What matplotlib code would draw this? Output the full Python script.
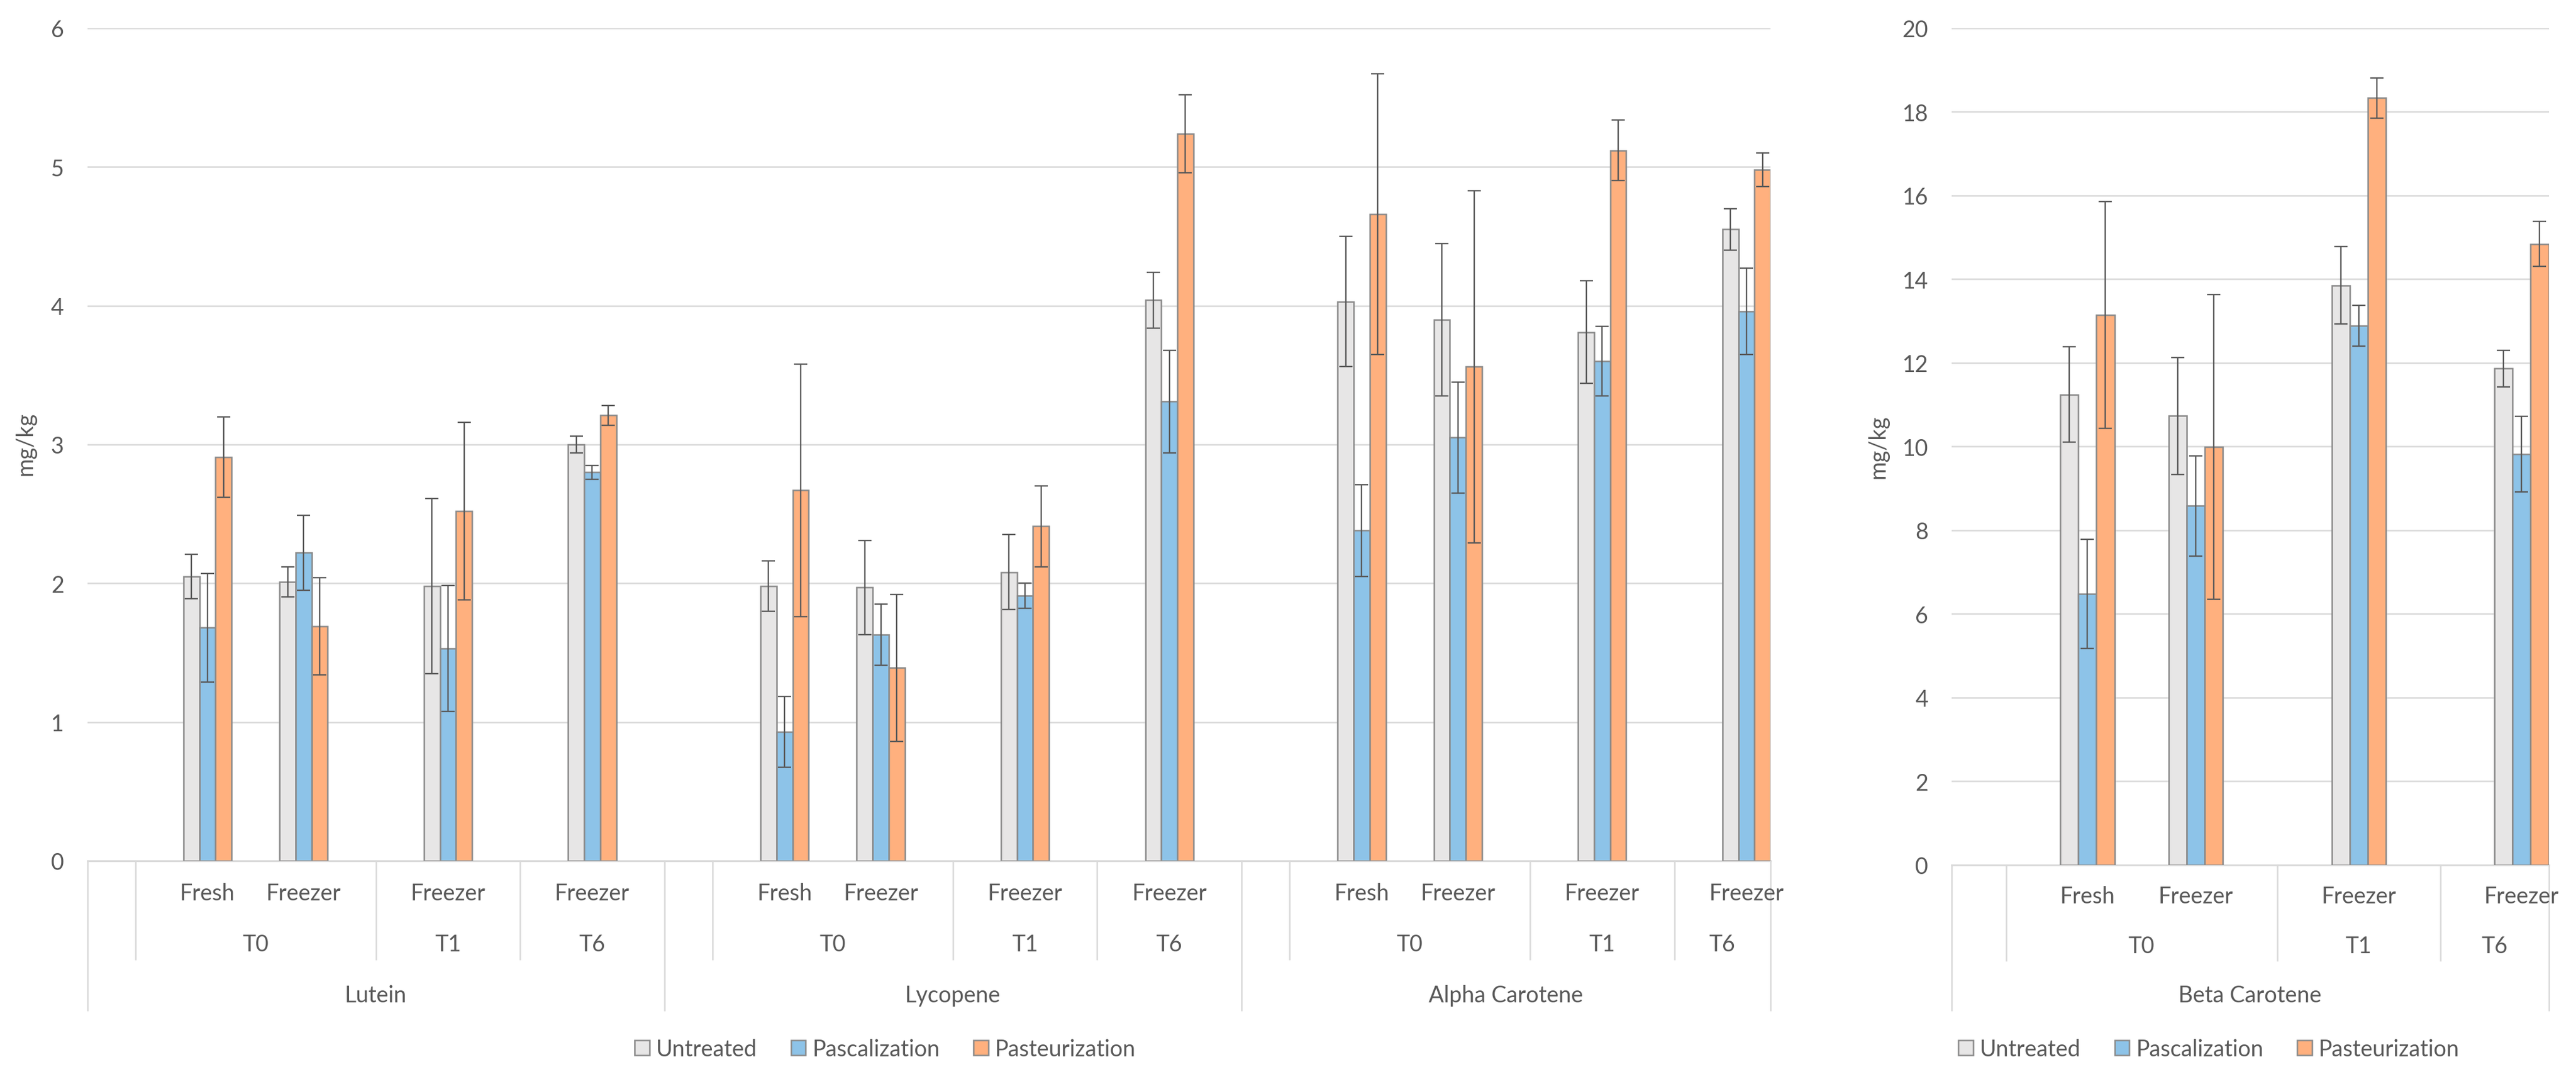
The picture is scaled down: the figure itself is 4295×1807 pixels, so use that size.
import matplotlib
matplotlib.use("Agg")
import matplotlib.pyplot as plt
import matplotlib.transforms as mtransforms
from matplotlib.patches import Patch
from matplotlib.lines import Line2D
import numpy as np

plt.rcParams['font.family'] = ['Lato', 'DejaVu Sans']

# ---------------- data ----------------
series_names = ["Untreated", "Pascalization", "Pasteurization"]

left_groups = ["Lutein", "Lycopene", "Alpha Carotene"]
right_groups = ["Beta Carotene"]

# Excel-style category rows per compound: (time level, storage labels incl. blank rows)
layout_full = [("", [""]),
               ("T0", ["", "Fresh", "", "Freezer", ""]),
               ("T1", ["", "Freezer", ""]),
               ("T6", ["", "Freezer", ""])]
layout_last = [("", [""]),
               ("T0", ["", "Fresh", "", "Freezer", ""]),
               ("T1", ["", "Freezer", ""]),
               ("T6", ["", "Freezer"])]

# values for the non-blank rows, in order: T0 Fresh, T0 Freezer, T1 Freezer, T6 Freezer
untreated_left = [2.05, 2.01, 1.98, 3.00,   1.98, 1.97, 2.08, 4.04,   4.03, 3.90, 3.81, 4.55]
untreated_left_err = [0.16, 0.11, 0.63, 0.06, 0.18, 0.34, 0.27, 0.20, 0.47, 0.55, 0.37, 0.15]
pascal_left = [1.68, 2.22, 1.53, 2.80,   0.93, 1.63, 1.91, 3.31,   2.38, 3.05, 3.60, 3.96]
pascal_left_err = [0.39, 0.27, 0.455, 0.05, 0.255, 0.22, 0.09, 0.37, 0.33, 0.40, 0.25, 0.31]
pasteur_left = [2.91, 1.69, 2.52, 3.21,   2.67, 1.39, 2.41, 5.24,   4.66, 3.56, 5.12, 4.98]
pasteur_left_err = [0.29, 0.35, 0.64, 0.07, 0.91, 0.53, 0.29, 0.28, 1.01, 1.27, 0.22, 0.12]

untreated_right = [11.24, 10.73, 13.85, 11.86]
untreated_right_err = [1.14, 1.40, 0.92, 0.44]
pascal_right = [6.48, 8.58, 12.88, 9.82]
pascal_right_err = [1.30, 1.20, 0.49, 0.90]
pasteur_right = [13.14, 9.99, 18.33, 14.84]
pasteur_right_err = [2.71, 3.64, 0.48, 0.54]

left_yticks = [0, 1, 2, 3, 4, 5, 6]
right_yticks = [0, 2, 4, 6, 8, 10, 12, 14, 16, 18, 20]
y_label = "mg/kg"

# ---------------- style ----------------
colors = ["#E7E6E6", "#8DC3E8", "#FFB07E"]
edge = "#8A8A8A"
err_col = "#595959"
txt_col = "#595959"
grid_col = "#D9D9D9"
FS = 27

W, H = 4295, 1808
fig = plt.figure(figsize=(W / 100, H / 100), dpi=100)


def fy(px):
    return 1 - px / H


def build_rows(groups, layouts):
    rows = []
    for g, lay in zip(groups, layouts):
        for t, subs in lay:
            for s in subs:
                rows.append((g, t, s))
    return rows


def draw_chart(ax, groups, layouts, vals, errs, ylim, yticks, rows_y):
    rows = build_rows(groups, layouts)
    n = len(rows)
    pos = np.array([i + 0.5 for i, r in enumerate(rows) if r[2] != ""])
    bw = 1 / 3
    for k in range(3):
        ax.bar(pos + (k - 1) * bw, vals[k], width=bw, color=colors[k],
               edgecolor=edge, linewidth=1.8, zorder=3)
        ax.errorbar(pos + (k - 1) * bw, vals[k], yerr=errs[k], fmt='none',
                    ecolor=err_col, elinewidth=1.7, capsize=8, capthick=1.7, zorder=4)
    ax.set_xlim(0, n)
    ax.set_ylim(*ylim)
    ax.set_yticks(yticks)
    ax.set_yticklabels([str(v) for v in yticks], fontsize=FS, color=txt_col)
    ax.tick_params(axis='y', length=0, pad=28)
    ax.set_xticks([])
    for s in ["left", "right", "top"]:
        ax.spines[s].set_visible(False)
    ax.spines["bottom"].set_color(grid_col)
    ax.spines["bottom"].set_linewidth(2.2)
    ax.yaxis.grid(True, color=grid_col, linewidth=1.8, zorder=0)
    ax.set_axisbelow(True)

    tr = mtransforms.blended_transform_factory(ax.transData, fig.transFigure)
    y_axis, y_sub, y_time, y_grp, y_short, y_long = rows_y

    def vline(x, yend):
        ax.add_line(Line2D([x, x], [fy(y_axis), fy(yend)], transform=tr,
                           color=grid_col, linewidth=1.8, clip_on=False))

    i = 0
    for g, lay in zip(groups, layouts):
        g_start = i
        vline(g_start, y_long)
        for t, subs in lay:
            t_start = i
            for s in subs:
                if s:
                    ax.text(i + 0.5, fy(y_sub), s, transform=tr, ha='center', va='center',
                            fontsize=FS, color=txt_col)
                i += 1
            if t:
                ax.text((t_start + i) / 2, fy(y_time), t, transform=tr, ha='center',
                        va='center', fontsize=FS, color=txt_col)
            if i != g_start + sum(len(x[1]) for x in lay):
                vline(i, y_short)
        ax.text((g_start + i) / 2, fy(y_grp), g, transform=tr, ha='center', va='center',
                fontsize=FS, color=txt_col)
    vline(i, y_long)


# left chart
axL = fig.add_axes([145.5 / W, fy(1436), (2952 - 145.5) / W, (1436 - 48) / H])
draw_chart(axL, left_groups, [layout_full, layout_full, layout_last],
           [untreated_left, pascal_left, pasteur_left],
           [untreated_left_err, pascal_left_err, pasteur_left_err],
           (0, 6), left_yticks, (1436, 1490, 1575, 1660, 1600, 1685))
fig.text(42 / W, fy(740), y_label, rotation=90, ha='center', va='center',
         fontsize=FS, color=txt_col)

# right chart
axR = fig.add_axes([3254 / W, fy(1443), (4249.5 - 3254) / W, (1443 - 47.5) / H])
draw_chart(axR, right_groups, [layout_last],
           [untreated_right, pascal_right, pasteur_right],
           [untreated_right_err, pascal_right_err, pasteur_right_err],
           (0, 20), right_yticks, (1443, 1495, 1578, 1660, 1602, 1685))
fig.text(3131 / W, fy(745), y_label, rotation=90, ha='center', va='center',
         fontsize=FS, color=txt_col)

handles = [Patch(facecolor=c, edgecolor=edge, linewidth=1.8) for c in colors]
for cx in (1476, 3683):
    leg = fig.legend(handles, series_names, loc='center', bbox_to_anchor=(cx / W, fy(1750)),
                     ncol=3, frameon=False, fontsize=FS, handlelength=0.65, handleheight=0.65,
                     handletextpad=0.3, columnspacing=1.5, borderpad=0)
    for t in leg.get_texts():
        t.set_color(txt_col)

fig.savefig("out.png", dpi=100)
